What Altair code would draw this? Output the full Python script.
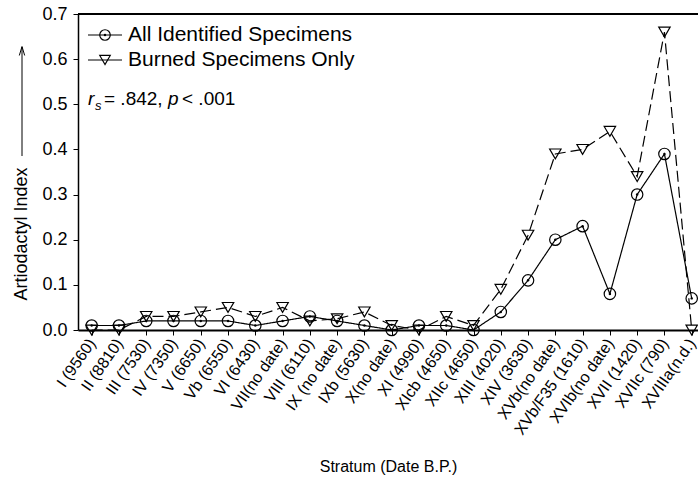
import altair as alt
import pandas as pd

# Strata (oldest to youngest) with their dates B.P.
strata = [
    "I (9560)", "II (8810)", "III (7530)", "IV (7350)", "V (6650)",
    "Vb (6550)", "VI (6430)", "VII(no date)", "VIII (6110)", "IX (no date)",
    "IXb (5630)", "X(no date)", "XI (4990)", "XIcb (4650)", "XIIc (4650)",
    "XIII (4020)", "XIV (3630)", "XVb(no date)", "XVb/F35 (1610)",
    "XVIb(no date)", "XVII (1420)", "XVIIc (790)", "XVIIIa(n.d.)",
]
all_identified = [0.01, 0.01, 0.02, 0.02, 0.02, 0.02, 0.01, 0.02, 0.03, 0.02,
                  0.01, 0.00, 0.01, 0.01, 0.00, 0.04, 0.11, 0.20, 0.23, 0.08,
                  0.30, 0.39, 0.07]
burned_only = [0.00, 0.00, 0.03, 0.03, 0.04, 0.05, 0.03, 0.05, 0.02, 0.025,
               0.04, 0.01, 0.00, 0.03, 0.01, 0.09, 0.21, 0.39, 0.40, 0.44,
               0.34, 0.66, 0.00]
series_names = ["All Identified Specimens", "Burned Specimens Only"]
y_ticks = [0.0, 0.1, 0.2, 0.3, 0.4, 0.5, 0.6, 0.7]

FONT = "Liberation Sans"
W, H = 620, 316

df = pd.DataFrame({
    "stratum": strata * 2,
    "series": [series_names[0]] * len(strata) + [series_names[1]] * len(strata),
    "value": all_identified + burned_only,
})

x_enc = alt.X(
    "stratum:N", sort=strata,
    scale=alt.Scale(type="point", padding=0.366, align=0.685),
    axis=alt.Axis(
        labelAngle=-55, labelAlign="right", labelBaseline="middle",
        labelFontSize=16, labelPadding=5, labelColor="black", labelOverlap=False,
        tickSize=5, tickColor="black", domainColor="black", domainWidth=2,
        title="Stratum (Date B.P.)", titleFontSize=16, titleFontWeight="normal",
        titleY=128, titleColor="black",
    ),
)
y_enc = alt.Y(
    "value:Q",
    scale=alt.Scale(domain=[0, 0.7], nice=False, zero=True),
    axis=alt.Axis(
        values=y_ticks, format=".1f", grid=False, title=None,
        labelFontSize=18, labelPadding=6, labelColor="black",
        tickSize=5, tickColor="black", domainColor="black", domainWidth=1.5,
    ),
)

dash_scale = alt.Scale(domain=series_names, range=[[1, 0], [11, 5]])
shape_scale = alt.Scale(domain=series_names, range=["circle", "triangle-down"])

base = alt.Chart(df)

lines = base.mark_line(color="black", strokeWidth=1.2).encode(
    x=x_enc, y=y_enc,
    strokeDash=alt.StrokeDash("series:N", scale=dash_scale, legend=None),
    detail="series:N",
)
points = base.mark_point(filled=False, color="black", strokeWidth=1.2, size=130, opacity=1).encode(
    x=x_enc, y=y_enc,
    shape=alt.Shape("series:N", scale=shape_scale, legend=None),
)
dots = base.transform_filter(alt.datum.series == series_names[0]).mark_point(
    filled=True, color="black", size=6, shape="circle", opacity=1
).encode(x=x_enc, y=y_enc)

one = pd.DataFrame({"k": [0]})

# top frame line
top_rule = alt.Chart(one).mark_rule(color="black", strokeWidth=2).encode(
    x=alt.value(0), x2=alt.value(W), y=alt.value(0)
)

# legend entries
leg_rows = [21, 46]
legend_layers = []
for name, yy, shp in zip(series_names, leg_rows, ["circle", "triangle-down"]):
    legend_layers.append(alt.Chart(one).mark_rule(color="black", strokeWidth=1.2).encode(
        x=alt.value(10), x2=alt.value(44), y=alt.value(yy)))
    legend_layers.append(alt.Chart(one).mark_point(
        filled=False, color="black", strokeWidth=1.2, size=110, shape=shp, opacity=1
    ).encode(x=alt.value(27), y=alt.value(yy)))
    legend_layers.append(alt.Chart(one).mark_text(
        text=name, font=FONT, fontSize=21, align="left", baseline="middle", color="black"
    ).encode(x=alt.value(50), y=alt.value(yy)))
legend_layers.append(alt.Chart(one).mark_point(
    filled=True, color="black", size=6, shape="circle", opacity=1
).encode(x=alt.value(27), y=alt.value(leg_rows[0])))

# Spearman correlation note
note_parts = [
    ("r", 10, 91, 19, "italic"),
    ("s", 17, 96, 13, "italic"),
    ("= .842,", 26, 91, 19, "normal"),
    ("p", 90, 91, 19, "italic"),
    ("< .001", 104, 91, 19, "normal"),
]
note_layers = [
    alt.Chart(one).mark_text(
        text=t, font=FONT, fontSize=fs, fontStyle=st, align="left",
        baseline="alphabetic", color="black"
    ).encode(x=alt.value(xx), y=alt.value(yy))
    for t, xx, yy, fs, st in note_parts
]

# y-axis title with upward arrow
y_title = alt.Chart(one).mark_text(
    text="Artiodactyl Index", font=FONT, fontSize=18, angle=270,
    align="center", baseline="middle", color="black"
).encode(x=alt.value(-56), y=alt.value(220))
arrow_shaft = alt.Chart(one).mark_rule(color="black", strokeWidth=1).encode(
    x=alt.value(-56), y=alt.value(33), y2=alt.value(142)
)
arrow_head = alt.Chart(one).mark_point(
    shape="M-0.6,1L0,-1L0.6,1", filled=False, color="black", strokeWidth=1,
    size=80, opacity=1
).encode(x=alt.value(-56), y=alt.value(37))

chart = alt.layer(
    top_rule, lines, points, dots, *legend_layers, *note_layers,
    y_title, arrow_shaft, arrow_head,
).properties(
    width=W, height=H,
    autosize=alt.AutoSizeParams(type="none"),
    padding={"left": 78, "top": 14, "right": 0, "bottom": 152},
).configure(
    font=FONT,
).configure_view(stroke=None)

chart.save("out.html", embed_options={"renderer": "svg", "actions": False})
